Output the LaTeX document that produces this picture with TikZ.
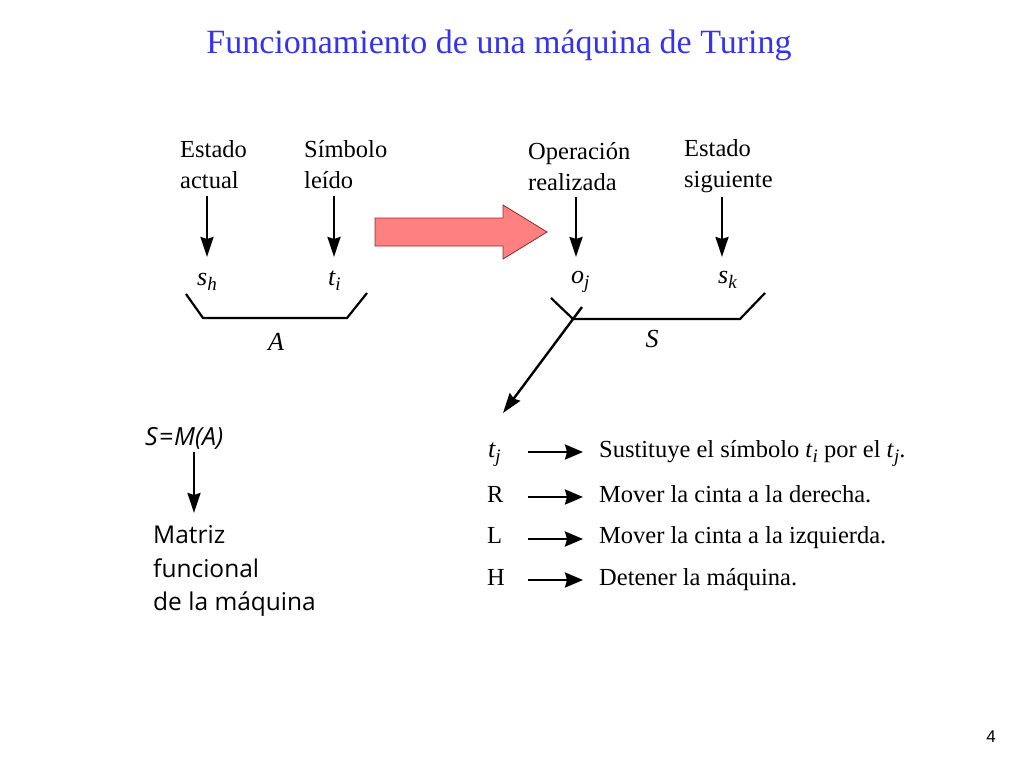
\documentclass[tikz,border=0pt]{standalone}
\usepackage{fontspec}
\setmainfont{Liberation Serif}
\newfontfamily\optfont{Open Sans}
\newfontfamily\pgnfont{Liberation Sans}
\usetikzlibrary{arrows.meta}
\definecolor{titleblue}{RGB}{51,51,240}
\definecolor{salmon}{RGB}{255,128,128}
\definecolor{salmonedge}{RGB}{150,40,40}
\tikzset{
  lbl/.style={anchor=base west, inner sep=0pt, font=\fontsize{24.5}{24.5}\selectfont},
  sym/.style={anchor=base west, inner sep=0pt, font=\fontsize{26}{26}\selectfont\itshape},
  sans/.style={anchor=base west, inner sep=0pt, font=\fontsize{24.5}{24.5}\selectfont\optfont},
  darr/.style={line width=2.4pt, -{Stealth[length=20pt,width=13pt,inset=2pt]}},
  harr/.style={line width=2.5pt, -{Stealth[length=18pt,width=15pt,inset=2pt]}},
  brk/.style={line width=2.2pt},
}
\newcommand{\vsub}[2]{#1\raisebox{-0.5ex}{\fontsize{19}{19}\selectfont #2}}
\begin{document}
\begin{tikzpicture}[x=1pt,y=-1pt]
\useasboundingbox (0,0) rectangle (1024,768);
% title
\node[anchor=base, inner sep=0pt, text=titleblue, font=\fontsize{34}{34}\selectfont] (title) at (499,54) {Funcionamiento de una máquina de Turing};
% left labels
\node[lbl] (ea1) at (180,157) {Estado};
\node[lbl] (ea2) at (180,188) {actual};
\node[lbl] (sl1) at (304,157) {Símbolo};
\node[lbl] (sl2) at (304,188) {leído};
\coordinate (a1s) at (207,196);
\coordinate (a1e) at (207,257);
\coordinate (a2s) at (334,196);
\coordinate (a2e) at (334,257);
\draw[darr] (a1s) -- (a1e);
\draw[darr] (a2s) -- (a2e);
\node[sym] (sh) at (197,285) {\vsub{s}{h}};
\node[sym] (ti) at (328,285) {\vsub{t}{i}};
\coordinate (b1) at (186,294);
\coordinate (b2) at (203,318);
\coordinate (b3) at (347,318);
\coordinate (b4) at (367,293);
\draw[brk] (b1) -- (b2) -- (b3) -- (b4);
\node[sym, anchor=base] (A) at (276,350) {A};
% big red arrow
\draw[fill=salmon, draw=salmonedge, line width=0.8pt] (375,218) -- (503,218) -- (503,205) -- (547,232) -- (503,259) -- (503,246) -- (375,246) -- cycle;
% right labels
\node[lbl] (or1) at (528,159) {Operación};
\node[lbl] (or2) at (528,190) {realizada};
\node[lbl] (es1) at (684,156) {Estado};
\node[lbl] (es2) at (684,187) {siguiente};
\coordinate (a3s) at (576,197);
\coordinate (a3e) at (576,257);
\coordinate (a4s) at (722,197);
\coordinate (a4e) at (722,257);
\draw[darr] (a3s) -- (a3e);
\draw[darr] (a4s) -- (a4e);
\node[sym] (oj) at (571,283) {\vsub{o}{j}};
\node[sym] (sk) at (718,283) {\vsub{s}{k}};
\coordinate (c1) at (551,298);
\coordinate (c2) at (573,319);
\coordinate (c3) at (740,319);
\coordinate (c4) at (765,293);
\draw[brk] (c1) -- (c2) -- (c3) -- (c4);
\node[sym, anchor=base] (S) at (652,347) {S};
\coordinate (d1) at (582,307);
\coordinate (d2) at (503,413);
\draw[darr] (d1) -- (d2);
% S=M(A)
\node[anchor=base west, inner sep=0pt, font=\fontsize{25}{25}\selectfont\optfont\itshape] (smA) at (145,445) {S\kern1pt=\kern1ptM(A)};
\coordinate (e1) at (194,452);
\coordinate (e2) at (194,513);
\draw[darr] (e1) -- (e2);
\node[sans] (m1) at (153,543) {Matriz};
\node[sans] (m2) at (153,577) {funcional};
\node[sans] (m3) at (153,610) {de la máquina};
% list
\node[sym] (tj) at (488,457) {\vsub{t}{j}};
\node[lbl] (R) at (487,502) {R};
\node[lbl] (L) at (487,543) {L};
\node[lbl] (H) at (487,585) {H};
\foreach \n/\y in {1/452,2/497,3/539,4/580}{
  \coordinate (ls\n) at (528,\y);
  \coordinate (le\n) at (583,\y);
  \draw[harr] (ls\n) -- (le\n);
}
\node[lbl] (t1) at (599,457) {Sustituye el símbolo \vsub{\textit{t}}{\textit{i}} por el \vsub{\textit{t}}{\textit{j}}.};
\node[lbl] (t2) at (599,502) {Mover la cinta a la derecha.};
\node[lbl] (t3) at (599,543) {Mover la cinta a la izquierda.};
\node[lbl] (t4) at (599,585) {Detener la máquina.};
% page number
\node[anchor=base, inner sep=0pt, font=\fontsize{17}{17}\selectfont\pgnfont] (pg) at (991,742) {4};
\end{tikzpicture}
\end{document}
